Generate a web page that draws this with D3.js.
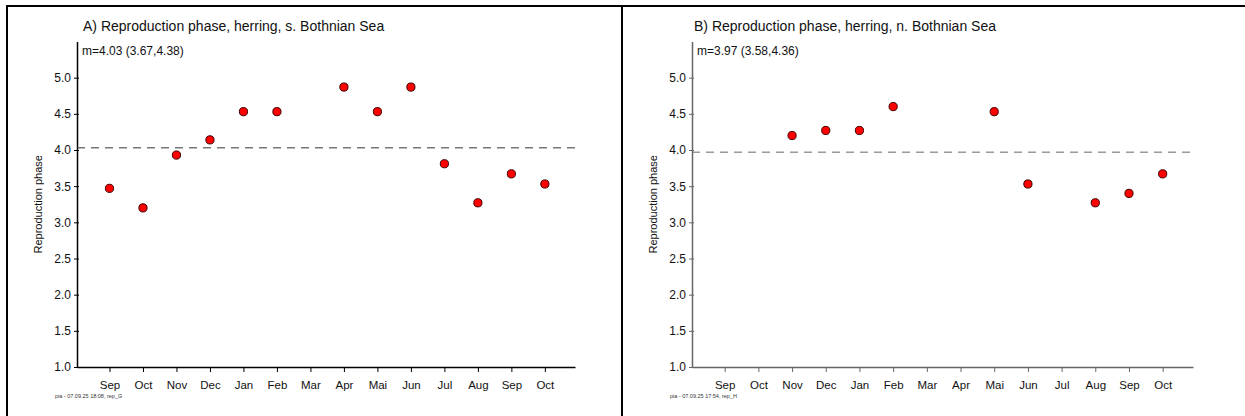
<!DOCTYPE html>
<html>
<head>
<meta charset="utf-8">
<script src="https://cdn.jsdelivr.net/npm/d3@7"></script>
<style>
  html, body { margin: 0; padding: 0; background: #fff; }
  svg { display: block; font-family: "Liberation Sans", Arial, sans-serif; }
</style>
</head>
<body>
<svg id="chart" width="1245" height="416"></svg>
<script>
// Month labels along the x axis (Sep of one year to Oct of the next)
const months = ["Sep", "Oct", "Nov", "Dec", "Jan", "Feb", "Mar", "Apr", "Mai", "Jun", "Jul", "Aug", "Sep", "Oct"];
const yTickValues = [1.0, 1.5, 2.0, 2.5, 3.0, 3.5, 4.0, 4.5, 5.0];

// Mean reproduction phase per month (null = no sample)
const phaseSouth = [3.47, 3.20, 3.93, 4.14, 4.53, 4.53, null, 4.87, 4.53, 4.87, 3.81, 3.27, 3.67, 3.53];
const phaseNorth = [null, null, 4.20, 4.27, 4.27, 4.60, null, null, 4.53, 3.53, null, 3.27, 3.40, 3.67];

// Overall mean with confidence interval
const meanSouth = 4.03, ciSouth = [3.67, 4.38];
const meanNorth = 3.97, ciNorth = [3.58, 4.36];

const titles = [
  "A) Reproduction phase, herring, s. Bothnian Sea",
  "B) Reproduction phase, herring, n. Bothnian Sea"
];
const stamps = ["pia - 07.09.25 18:08, rep_G", "pia - 07.09.25 17:54, rep_H"];

const svg = d3.select("#chart");

// Frame around the two panels
svg.append("line").attr("x1", 7).attr("x2", 1245).attr("y1", 6).attr("y2", 6)
  .attr("stroke", "#000").attr("stroke-width", 2);
svg.append("line").attr("x1", 7).attr("x2", 7).attr("y1", 5).attr("y2", 416)
  .attr("stroke", "#000").attr("stroke-width", 2);
svg.append("line").attr("x1", 622).attr("x2", 622).attr("y1", 5).attr("y2", 416)
  .attr("stroke", "#000").attr("stroke-width", 2);

function drawPanel(opt) {
  const x = d3.scaleLinear().domain([-0.97, 13.9]).range([opt.left, opt.right]);
  const y = d3.scaleLinear().domain([1.0, 5.5]).range([367, 41.5]);
  const g = svg.append("g");

  // Title and mean label
  g.append("text").attr("x", opt.titleX).attr("y", 31)
    .attr("font-size", 14).attr("fill", "#111").text(opt.title);
  g.append("text").attr("x", opt.left + 5).attr("y", 55)
    .attr("font-size", 12).attr("fill", "#111")
    .text(`m=${opt.mean.toFixed(2)} (${opt.ci[0].toFixed(2)},${opt.ci[1].toFixed(2)})`);

  // Y axis
  const yAxis = d3.axisLeft(y).tickValues(yTickValues).tickFormat(d3.format(".1f"))
    .tickSizeInner(3).tickSizeOuter(0).tickPadding(3);
  const ya = g.append("g").attr("transform", `translate(${opt.left},0)`).call(yAxis);
  ya.select(".domain").attr("stroke", opt.axisColor).attr("stroke-width", 1.5);
  ya.selectAll(".tick line").attr("stroke", opt.axisColor).attr("x2", 2).attr("x1", -3);
  ya.selectAll(".tick text").attr("font-size", 12).attr("fill", "#111")
    .attr("font-family", "Liberation Sans, Arial, sans-serif");

  // X axis
  const xAxis = d3.axisBottom(x).tickValues(d3.range(months.length))
    .tickFormat(i => months[i]).tickSizeInner(5).tickSizeOuter(0).tickPadding(9);
  const xa = g.append("g").attr("transform", `translate(0,${y(1.0)})`).call(xAxis);
  xa.select(".domain").attr("stroke", opt.axisColor).attr("stroke-width", 1.5);
  xa.selectAll(".tick line").attr("stroke", opt.axisColor);
  xa.selectAll(".tick text").attr("font-size", 11.5).attr("fill", "#111")
    .attr("font-family", "Liberation Sans, Arial, sans-serif");

  // Y axis title
  g.append("text")
    .attr("transform", `translate(${opt.left - 35},${y(3.25)}) rotate(-90)`)
    .attr("text-anchor", "middle").attr("font-size", 11).attr("fill", "#111")
    .text("Reproduction phase");

  // Mean line
  g.append("line")
    .attr("x1", opt.left).attr("x2", opt.right)
    .attr("y1", y(opt.mean)).attr("y2", y(opt.mean))
    .attr("stroke", opt.dashColor).attr("stroke-width", 1)
    .attr("stroke-dasharray", "8,6");

  // Monthly points
  const pts = opt.values.map((v, i) => ({ i, v })).filter(d => d.v !== null);
  g.selectAll("circle.pt").data(pts).enter().append("circle")
    .attr("class", "pt")
    .attr("cx", d => x(d.i)).attr("cy", d => y(d.v)).attr("r", 4.1)
    .attr("fill", "#ff0000").attr("stroke", "#3a0000").attr("stroke-width", 1);

  // Stamp
  g.append("text").attr("x", opt.left - 22).attr("y", 398)
    .attr("font-size", 5.5).attr("fill", "#333").text(opt.stamp);
}

drawPanel({
  left: 77, right: 575, titleX: 83,
  title: titles[0], values: phaseSouth, mean: meanSouth, ci: ciSouth,
  axisColor: "#000", dashColor: "#333", stamp: stamps[0]
});
drawPanel({
  left: 692, right: 1193, titleX: 694,
  title: titles[1], values: phaseNorth, mean: meanNorth, ci: ciNorth,
  axisColor: "#666", dashColor: "#666", stamp: stamps[1]
});
</script>
</body>
</html>
